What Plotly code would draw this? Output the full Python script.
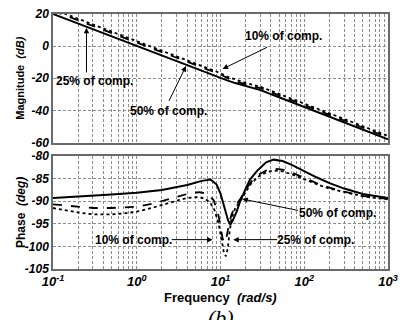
import numpy as np
import plotly.graph_objects as go

# ---- magnitude (dB) vs frequency (rad/s) ----
mag_freq = [0.1, 0.2, 0.5, 1, 2, 5, 8, 10, 12, 15, 20, 30, 50, 100, 200, 500, 1000]
mag_50 = [20, 14, 6, 0, -6, -14, -17.8, -19.5, -21.3, -23, -25, -27.4, -31.8, -37.8, -43.9, -51.9, -58]
mag_25 = [22, 16, 8, 2, -4, -12, -15.8, -17.6, -19.8, -21.8, -23.8, -26.2, -30.6, -36.6, -42.7, -50.7, -56.8]
mag_10 = [23, 17, 9, 3, -3, -11, -14.9, -16.8, -19.0, -20.9, -22.9, -25.3, -29.7, -35.7, -41.8, -49.8, -55.9]

# ---- phase (deg) vs frequency (rad/s) ----
ph50_freq = [0.1, 0.2, 0.5, 1, 2, 4, 6, 7.6, 9, 10, 11.4, 12.3, 13.1, 14, 15.5, 17.2, 20,
             22.5, 27, 35, 43, 55, 70, 100, 140, 200, 300, 500, 1000]
ph_50 = [-89.3, -89.0, -88.5, -88.1, -87.5, -86.4, -85.5, -85.2, -86.3, -88.3, -92.2, -94.2, -95.2,
         -94.3, -92.4, -90.0, -87.2, -85.2, -83.4, -81.4, -80.8, -81.1, -81.9, -83.4, -84.7, -86.0,
         -87.2, -88.4, -89.3]

ph25_freq = [0.1, 0.2, 0.3, 0.5, 1, 1.5, 2, 3, 4, 5.5, 7, 8.3, 9.3, 10, 10.6, 11.2, 11.8, 12.5,
             13.5, 15, 17.2, 20, 23, 28, 35, 43, 55, 70, 100, 140, 200, 300, 500, 1000]
ph_25 = [-90.7, -91.3, -91.5, -91.5, -91.2, -90.6, -90.0, -89.0, -88.4, -88.0, -88.3, -89.8, -92.5,
         -95.5, -98.3, -99.2, -98.0, -95.5, -93.0, -91.0, -89.5, -87.5, -85.8, -84.2, -83.2, -82.8,
         -83.0, -83.6, -84.9, -86.0, -87.0, -87.9, -88.8, -89.5]

ph10_freq = [0.1, 0.2, 0.3, 0.5, 0.7, 1, 1.5, 2, 3, 4, 5.3, 6.5, 7.5, 8.5, 9.5, 10.3, 11, 11.6,
             12.2, 12.8, 13.5, 15, 17.2, 20, 23, 28, 35, 43, 55, 70, 100, 140, 200, 300, 500, 1000]
ph_10 = [-91.5, -92.5, -92.9, -92.9, -92.7, -92.3, -91.5, -90.8, -89.9, -89.3, -89.1, -89.4, -90.3,
         -92.0, -95.0, -98.5, -101.5, -102.2, -100.5, -97.0, -94.0, -91.5, -90.0, -88.0, -86.2,
         -84.6, -83.6, -83.2, -83.4, -84.0, -85.2, -86.2, -87.2, -88.0, -88.9, -89.6]

# ---- axis ticks ----
x_ticks = [0.1, 1, 10, 100, 1000]
x_ticktext = ["10<sup>-1</sup>", "10<sup>0</sup>", "10<sup>1</sup>", "10<sup>2</sup>", "10<sup>3</sup>"]
mag_ticks = [20, 0, -20, -40, -60]
ph_ticks = [-80, -85, -90, -95, -100, -105]

FONT = "Liberation Sans"
minor_vals = [m * 10.0 ** d for d in range(-1, 3) for m in range(2, 10)]

fig = go.Figure()

styles = [("solid", 2.0), ("dash", 1.8), ("dot", 1.8)]
for (f, v), (dash, w) in zip([(mag_freq, mag_50), (mag_freq, mag_25), (mag_freq, mag_10)], styles):
    fig.add_trace(go.Scatter(x=f, y=v, mode="lines", line=dict(color="black", width=w, dash=dash),
                             xaxis="x", yaxis="y", showlegend=False))
for (f, v), (dash, w) in zip([(ph50_freq, ph_50), (ph25_freq, ph_25), (ph10_freq, ph_10)], styles):
    fig.add_trace(go.Scatter(x=f, y=v, mode="lines", line=dict(color="black", width=w, dash=dash),
                             xaxis="x2", yaxis="y2", showlegend=False))

grid = dict(showgrid=True, gridcolor="#8c8c8c", griddash="3px,2px", gridwidth=1)
frame = dict(showline=True, mirror=True, linecolor="#6a6a6a", linewidth=1.5, ticks="", zeroline=False)
tickfont = dict(family=FONT, size=12, color="black", weight="bold", style="italic")

xcommon = dict(type="log", range=[-1, 3], tickvals=x_ticks, **grid, **frame,
               minor=dict(tickvals=minor_vals, showgrid=True, gridcolor="#8c8c8c",
                          griddash="3px,2px", gridwidth=1, ticks=""))

fig.update_layout(
    width=405, height=320,
    margin=dict(l=53, r=12, t=7, b=51),
    paper_bgcolor="white", plot_bgcolor="white",
    xaxis=dict(**xcommon, showticklabels=False, anchor="y"),
    xaxis2=dict(**xcommon, ticktext=x_ticktext, tickfont=dict(tickfont, size=13),
                anchor="y2", matches="x"),
    yaxis=dict(domain=[0.496, 1], range=[-60, 20], tickvals=mag_ticks,
               ticktext=[str(t) for t in mag_ticks], tickfont=tickfont, **grid, **frame),
    yaxis2=dict(domain=[0, 0.443], range=[-105, -80], tickvals=ph_ticks,
                ticktext=[str(t) for t in ph_ticks], tickfont=tickfont, **grid, **frame),
)

lab = dict(family=FONT, size=12, color="black", weight="bold")
lx = np.log10


def arrow(xr, yr, tip, tail):
    fig.add_annotation(xref=xr, yref=yr, axref=xr, ayref=yr,
                       x=lx(tip[0]), y=tip[1], ax=lx(tail[0]), ay=tail[1],
                       text="", showarrow=True, arrowhead=2, arrowsize=1.1,
                       arrowwidth=1, arrowcolor="black")


def label(xr, yr, pos, text):
    fig.add_annotation(xref=xr, yref=yr, x=lx(pos[0]), y=pos[1], text=text,
                       showarrow=False, font=lab)


# magnitude panel call-outs
arrow("x", "y", (10.6, -14.2), (37.7, -0.2))
label("x", "y", (56.6, 6.0), "10% of comp.")
arrow("x", "y", (0.251, 11.5), (0.251, -17.3))
label("x", "y", (0.312, -21.5), "25% of comp.")
arrow("x", "y", (3.87, -12.4), (2.38, -35))
label("x", "y", (2.38, -40.5), "50% of comp.")

# phase panel call-outs
arrow("x2", "y2", (18.2, -89.5), (87.3, -92.1))
label("x2", "y2", (251, -92.7), "50% of comp.")
arrow("x2", "y2", (14.2, -98.5), (49.4, -98.5))
label("x2", "y2", (138, -98.5), "25% of comp.")
arrow("x2", "y2", (8.05, -98.5), (2.51, -98.5))
label("x2", "y2", (0.92, -98.5), "10% of comp.")

# axis titles
title_font = dict(family=FONT, size=12, color="black", weight="bold")
fig.add_annotation(xref="paper", yref="paper", x=-0.097, y=0.748, textangle=-90,
                   xanchor="center", yanchor="middle",
                   text="Magnitude  <i>(dB)</i>", showarrow=False, font=dict(title_font, size=11))
fig.add_annotation(xref="paper", yref="paper", x=-0.097, y=0.2215, textangle=-90,
                   xanchor="center", yanchor="middle",
                   text="Phase  <i>(deg)</i>", showarrow=False, font=title_font)
fig.add_annotation(xref="paper", yref="paper", x=0.5, y=-0.11, yanchor="middle",
                   text="Frequency  <i>(rad/s)</i>", showarrow=False, font=dict(title_font, size=13))
fig.add_annotation(xref="paper", yref="paper", x=0.5, y=-0.135, yanchor="top",
                   text="<i>(b)</i>", showarrow=False,
                   font=dict(family="Liberation Serif", size=22, color="black"))

fig.write_html("out.html")
